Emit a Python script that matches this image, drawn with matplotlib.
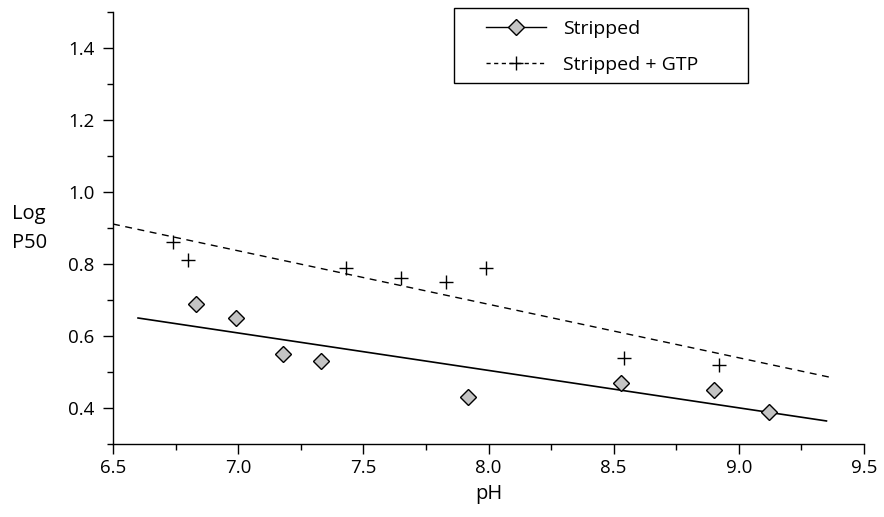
import matplotlib.pyplot as plt
from matplotlib.patches import Rectangle
from matplotlib.ticker import MultipleLocator, FormatStrFormatter

plt.rcParams['font.family'] = ['Open Sans', 'DejaVu Sans']

# Stripped
ph_stripped = [6.83, 6.99, 7.18, 7.33, 7.92, 8.53, 8.90, 9.12]
p50_stripped = [0.69, 0.65, 0.55, 0.53, 0.43, 0.47, 0.45, 0.39]
fit_x_stripped = [6.60, 9.35]
fit_y_stripped = [0.65, 0.364]

# Stripped + GTP
ph_gtp = [6.74, 6.80, 7.43, 7.65, 7.83, 7.99, 8.54, 8.92]
p50_gtp = [0.86, 0.81, 0.79, 0.76, 0.75, 0.79, 0.54, 0.52]
fit_x_gtp = [6.50, 9.36]
fit_y_gtp = [0.911, 0.486]

fig = plt.figure(figsize=(8.84, 5.17), dpi=100)
ax = fig.add_axes([113 / 884, 1 - 444 / 517, 751 / 884, 432 / 517])

ax.plot(fit_x_stripped, fit_y_stripped, color='black', lw=1.2)
ax.plot(fit_x_gtp, fit_y_gtp, color='black', lw=1.0, ls=(0, (5, 4)))
ax.plot(ph_stripped, p50_stripped, ls='none', marker='D', ms=8.5,
        mfc='#c4c4c4', mec='black', mew=1.0)
ax.plot(ph_gtp, p50_gtp, ls='none', marker='+', ms=10, mec='black', mew=1.0)

# legend: handles with line + marker, frame drawn separately
h1, = ax.plot([], [], color='black', lw=1.0, marker='D', ms=8,
              mfc='#c4c4c4', mec='black')
h2, = ax.plot([], [], color='black', lw=1.0, ls=(0, (3, 2.5)), marker='+',
              ms=10, mec='black')
leg = ax.legend([h1, h2], ['Stripped', 'Stripped + GTP'], loc='upper left',
                bbox_to_anchor=((486 - 113) / 751, (444 - 20) / 432),
                fontsize=14, frameon=False, handlelength=3.1,
                borderpad=0, labelspacing=0.92, borderaxespad=0,
                handletextpad=0.85)
box = Rectangle(((454 - 113) / 751, (444 - 83) / 432), 294 / 751, 75 / 432,
                transform=ax.transAxes, fill=False, edgecolor='black',
                lw=1.0, clip_on=False)
ax.add_patch(box)

ax.set_xlim(6.5, 9.5)
ax.set_ylim(0.3, 1.5)
ax.xaxis.set_major_locator(MultipleLocator(0.5))
ax.xaxis.set_minor_locator(MultipleLocator(0.25))
ax.set_yticks([0.4, 0.6, 0.8, 1.0, 1.2, 1.4])
ax.set_yticks([0.3, 0.5, 0.7, 0.9, 1.1, 1.3, 1.5], minor=True)
ax.xaxis.set_major_formatter(FormatStrFormatter('%.1f'))
ax.yaxis.set_major_formatter(FormatStrFormatter('%.1f'))

ax.spines['top'].set_visible(False)
ax.spines['right'].set_visible(False)
for s in ['left', 'bottom']:
    ax.spines[s].set_linewidth(1.0)
ax.tick_params(which='major', direction='out', length=7.5, width=1.0,
               labelsize=13.5)
ax.tick_params(axis='y', which='major', pad=6)
ax.tick_params(axis='x', which='major', pad=3)
ax.tick_params(which='minor', direction='out', length=4, width=1.0)

ax.set_xlabel('pH', fontsize=14.5, labelpad=5)
ax.set_ylabel('Log\nP50', fontsize=14.5, rotation=0, ha='left', va='center',
              linespacing=1.6)
ax.yaxis.set_label_coords(-101 / 751, (444 - 229) / 432)

fig.savefig('out.png', dpi=100)
